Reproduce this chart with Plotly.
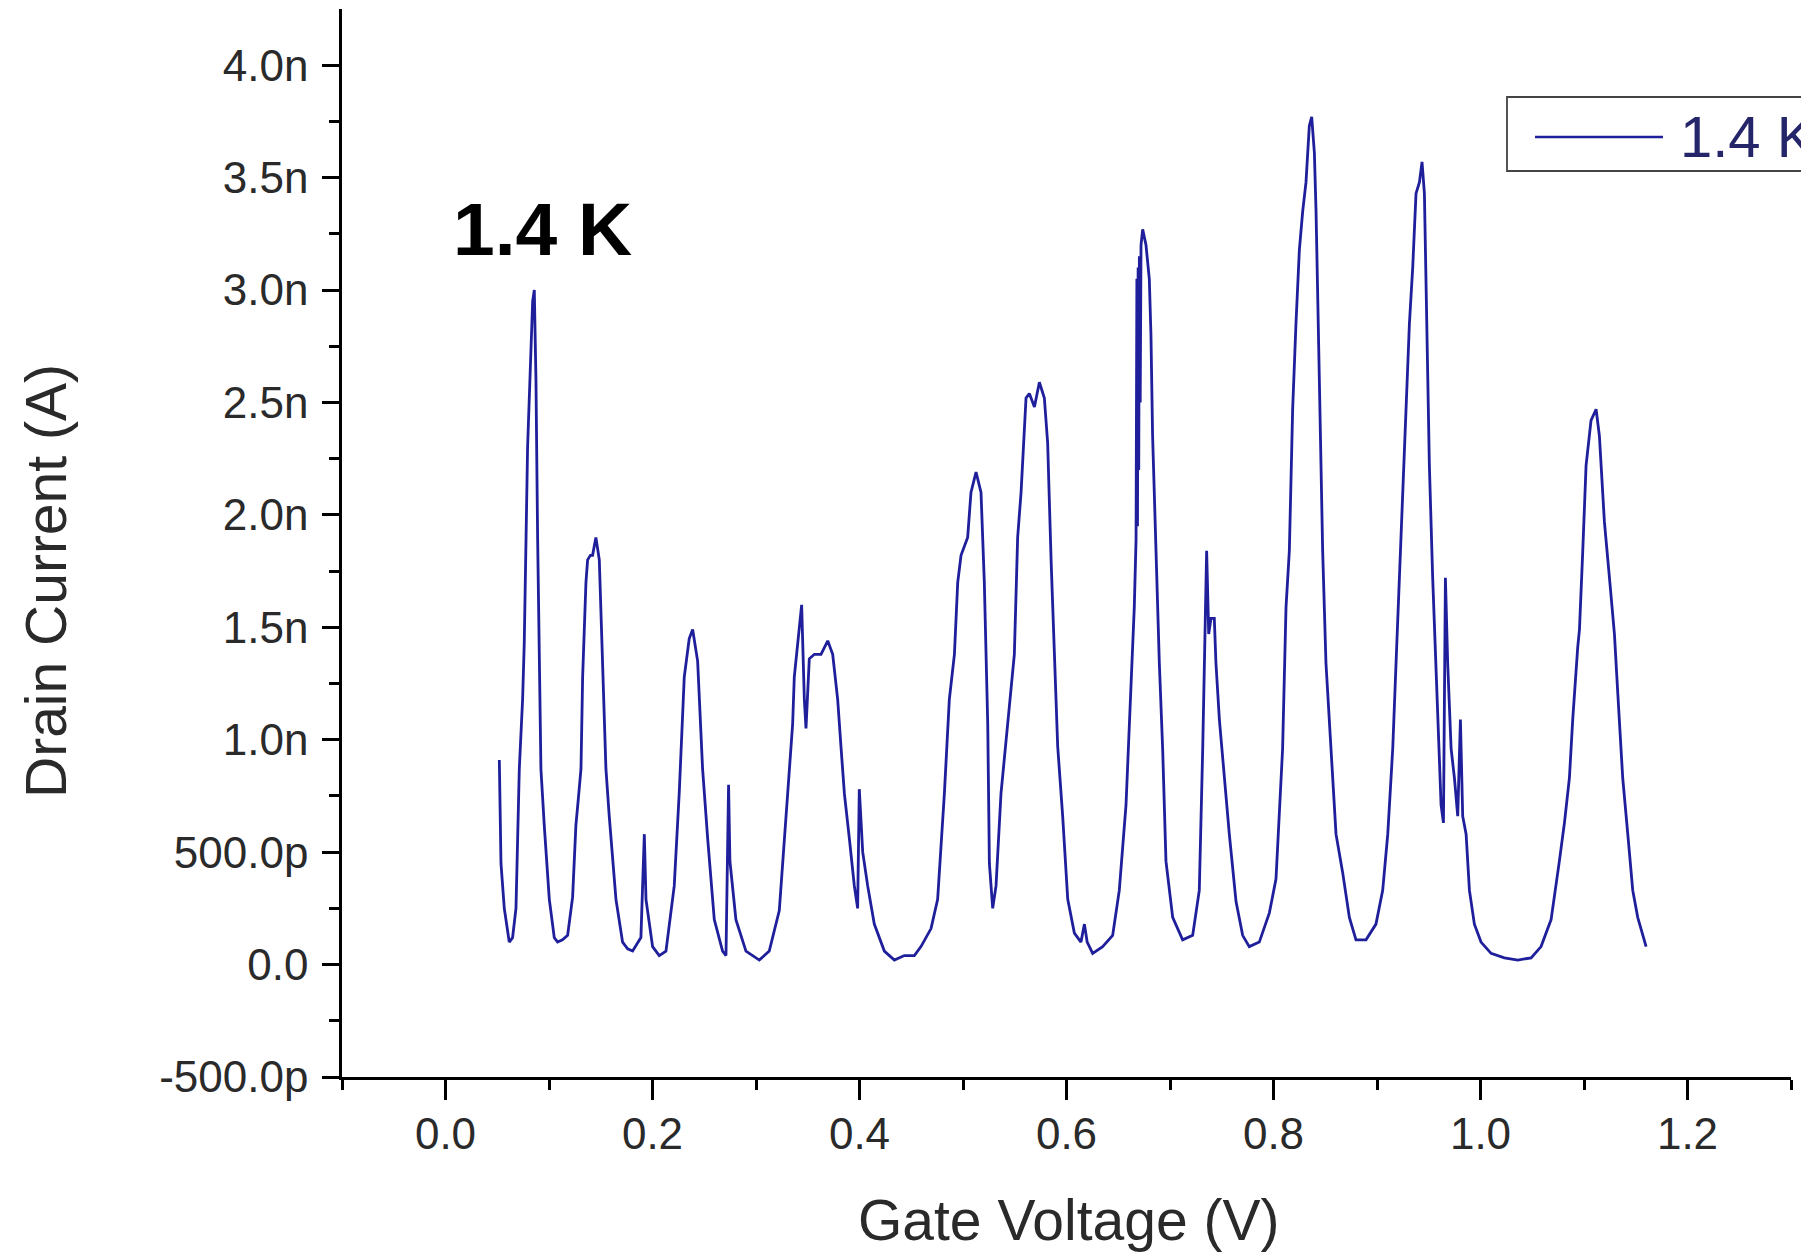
import plotly.graph_objects as go

# Gate voltage (V) and drain current (nA) at 1.4 K
gate_voltage = [
    0.0520, 0.0536, 0.0568, 0.0616, 0.0648, 0.0681, 0.0697, 0.0713, 0.0745, 0.0761,
    0.0793, 0.0825, 0.0842, 0.0858, 0.0874, 0.0890, 0.0906, 0.0922, 0.0954, 0.1003,
    0.1051, 0.1083, 0.1130, 0.1180, 0.1228, 0.1260, 0.1280, 0.1309, 0.1325, 0.1357,
    0.1373, 0.1400, 0.1421, 0.1453, 0.1486, 0.1518, 0.1550, 0.1582, 0.1647, 0.1711,
    0.1760, 0.1808, 0.1888, 0.1921, 0.1937, 0.2001, 0.2065, 0.2130, 0.2210, 0.2259,
    0.2307, 0.2355, 0.2388, 0.2436, 0.2484, 0.2533, 0.2597, 0.2677, 0.2710, 0.2735,
    0.2748, 0.2806, 0.2903, 0.3032, 0.3128, 0.3225, 0.3290, 0.3354, 0.3370, 0.3403,
    0.3441, 0.3467, 0.3483, 0.3515, 0.3564, 0.3628, 0.3693, 0.3741, 0.3789, 0.3821,
    0.3854, 0.3902, 0.3950, 0.3982, 0.3998, 0.4031, 0.4079, 0.4143, 0.4240, 0.4337,
    0.4433, 0.4530, 0.4594, 0.4691, 0.4755, 0.4820, 0.4868, 0.4917, 0.4949, 0.4981,
    0.5045, 0.5077, 0.5126, 0.5174, 0.5206, 0.5239, 0.5255, 0.5287, 0.5319, 0.5367,
    0.5432, 0.5496, 0.5528, 0.5561, 0.5609, 0.5641, 0.5690, 0.5738, 0.5786, 0.5818,
    0.5851, 0.5883, 0.5915, 0.5963, 0.6012, 0.6076, 0.6140, 0.6173, 0.6200, 0.6253,
    0.6349, 0.6446, 0.6510, 0.6575, 0.6623, 0.6655, 0.6672, 0.6680, 0.6686, 0.6692,
    0.6698, 0.6704, 0.6712, 0.6720, 0.6736, 0.6768, 0.6800, 0.6816, 0.6832, 0.6865,
    0.6897, 0.6929, 0.6961, 0.7026, 0.7122, 0.7219, 0.7283, 0.7316, 0.7332, 0.7354,
    0.7374, 0.7396, 0.7428, 0.7444, 0.7477, 0.7525, 0.7573, 0.7638, 0.7702, 0.7766,
    0.7863, 0.7960, 0.8024, 0.8088, 0.8121, 0.8153, 0.8169, 0.8185, 0.8217, 0.8250,
    0.8282, 0.8314, 0.8346, 0.8369, 0.8395, 0.8411, 0.8443, 0.8475, 0.8507, 0.8556,
    0.8604, 0.8668, 0.8733, 0.8797, 0.8894, 0.8990, 0.9055, 0.9104, 0.9152, 0.9184,
    0.9216, 0.9249, 0.9281, 0.9313, 0.9345, 0.9377, 0.9410, 0.9435, 0.9458, 0.9474,
    0.9506, 0.9538, 0.9571, 0.9587, 0.9619, 0.9642, 0.9661, 0.9683, 0.9716, 0.9748,
    0.9780, 0.9806, 0.9828, 0.9861, 0.9893, 0.9941, 1.0005, 1.0102, 1.0231, 1.0360,
    1.0489, 1.0585, 1.0682, 1.0762, 1.0811, 1.0859, 1.0891, 1.0939, 1.0956, 1.0988,
    1.1020, 1.1068, 1.1117, 1.1149, 1.1197, 1.1246, 1.1294, 1.1326, 1.1374, 1.1423,
    1.1471, 1.1519, 1.1568, 1.1600,
]
drain_current_nA = [
    0.91, 0.45, 0.25, 0.10, 0.12, 0.25, 0.56, 0.87, 1.18, 1.43,
    2.30, 2.73, 2.95, 3.00, 2.60, 1.90, 1.40, 0.87, 0.62, 0.29,
    0.12, 0.10, 0.11, 0.13, 0.30, 0.62, 0.72, 0.87, 1.28, 1.70,
    1.80, 1.82, 1.82, 1.90, 1.80, 1.28, 0.87, 0.66, 0.29, 0.10,
    0.07, 0.06, 0.12, 0.58, 0.29, 0.08, 0.04, 0.06, 0.35, 0.77,
    1.28, 1.45, 1.49, 1.35, 0.87, 0.56, 0.20, 0.06, 0.04, 0.80,
    0.46, 0.20, 0.06, 0.02, 0.06, 0.24, 0.66, 1.07, 1.28, 1.43,
    1.60, 1.18, 1.05, 1.36, 1.38, 1.38, 1.44, 1.38, 1.18, 0.97,
    0.76, 0.56, 0.35, 0.25, 0.78, 0.50, 0.35, 0.18, 0.06, 0.02,
    0.04, 0.04, 0.08, 0.16, 0.29, 0.76, 1.18, 1.38, 1.70, 1.82,
    1.90, 2.10, 2.19, 2.10, 1.70, 1.07, 0.45, 0.25, 0.35, 0.76,
    1.07, 1.38, 1.90, 2.10, 2.52, 2.54, 2.48, 2.59, 2.52, 2.32,
    1.80, 1.38, 0.97, 0.66, 0.29, 0.14, 0.10, 0.18, 0.10, 0.05,
    0.08, 0.13, 0.33, 0.71, 1.21, 1.59, 1.89, 3.05, 1.95, 3.10,
    2.20, 3.15, 2.50, 3.20, 3.27, 3.20, 3.05, 2.80, 2.35, 1.84,
    1.34, 0.96, 0.46, 0.21, 0.11, 0.13, 0.33, 0.96, 1.34, 1.84,
    1.47, 1.54, 1.54, 1.34, 1.09, 0.83, 0.58, 0.28, 0.13, 0.08,
    0.10, 0.23, 0.38, 0.96, 1.59, 1.84, 2.22, 2.47, 2.85, 3.18,
    3.35, 3.48, 3.73, 3.77, 3.61, 3.35, 2.60, 1.84, 1.34, 0.96,
    0.58, 0.41, 0.21, 0.11, 0.11, 0.18, 0.33, 0.58, 0.96, 1.34,
    1.72, 2.10, 2.47, 2.85, 3.10, 3.43, 3.48, 3.57, 3.43, 2.98,
    2.22, 1.72, 1.34, 1.14, 0.71, 0.63, 1.72, 1.34, 0.96, 0.83,
    0.66, 1.09, 0.66, 0.58, 0.33, 0.18, 0.10, 0.05, 0.03, 0.02,
    0.03, 0.08, 0.20, 0.46, 0.63, 0.83, 1.09, 1.41, 1.49, 1.84,
    2.22, 2.42, 2.47, 2.35, 1.97, 1.72, 1.47, 1.21, 0.83, 0.58,
    0.33, 0.21, 0.13, 0.08,
]

x_tick_vals = [0.0, 0.2, 0.4, 0.6, 0.8, 1.0, 1.2]
x_tick_text = ["0.0", "0.2", "0.4", "0.6", "0.8", "1.0", "1.2"]
x_minor_vals = [-0.1, 0.1, 0.3, 0.5, 0.7, 0.9, 1.1, 1.3]
y_tick_vals_nA = [-0.5, 0.0, 0.5, 1.0, 1.5, 2.0, 2.5, 3.0, 3.5, 4.0]
y_tick_text = ["-500.0p", "0.0", "500.0p", "1.0n", "1.5n", "2.0n", "2.5n", "3.0n", "3.5n", "4.0n"]
y_minor_vals_nA = [-0.25, 0.25, 0.75, 1.25, 1.75, 2.25, 2.75, 3.25, 3.75]

series_name = "1.4 K"
line_color = "#1f1f9c"
font_family = "Liberation Sans, Arial, sans-serif"

drain_current_A = [v * 1e-9 for v in drain_current_nA]

fig = go.Figure()
fig.add_trace(go.Scatter(
    x=gate_voltage, y=drain_current_A, mode="lines", name=series_name,
    line=dict(color=line_color, width=2.8), showlegend=False,
))

axis_common = dict(
    showline=True, linecolor="black", linewidth=2.5, mirror=False,
    showgrid=False, zeroline=False, ticks="outside", tickwidth=2.5,
    tickcolor="black", tickfont=dict(family=font_family, size=44, color="#2a2a2a"),
)
fig.update_xaxes(
    range=[-0.1, 1.3], tickvals=x_tick_vals, ticktext=x_tick_text, ticklen=20,
    ticklabelstandoff=-4,
    minor=dict(tickvals=x_minor_vals, ticks="outside", ticklen=10, tickwidth=2.5, tickcolor="black"),
    **axis_common,
)
fig.update_yaxes(
    range=[-0.5e-9, 4.25e-9], tickvals=[v * 1e-9 for v in y_tick_vals_nA], ticktext=y_tick_text,
    ticklen=17, ticklabelstandoff=5,
    minor=dict(tickvals=[v * 1e-9 for v in y_minor_vals_nA], ticks="outside", ticklen=10,
               tickwidth=2.5, tickcolor="black"),
    **axis_common,
)

L, R, T, B = 342, 10, 9, 175
W, H = 1801, 1252
pw, ph = W - L - R, H - T - B

def px_x(p):
    return (p - L) / pw

def px_y(p):
    return (H - B - p) / ph

annotations = [
    dict(text="<b>1.4 K</b>", x=0.094, y=3.27e-9, xref="x", yref="y", showarrow=False,
         xanchor="center", yanchor="middle", font=dict(family=font_family, size=75, color="black")),
    dict(text="Gate Voltage (V)", x=px_x(1068), y=px_y(1220), xref="paper", yref="paper",
         showarrow=False, xanchor="center", yanchor="middle",
         font=dict(family=font_family, size=57, color="#2a2a2a")),
    dict(text="Drain Current (A)", x=px_x(46), y=px_y(581), xref="paper", yref="paper",
         showarrow=False, xanchor="center", yanchor="middle", textangle=-90,
         font=dict(family=font_family, size=57, color="#2a2a2a")),
    dict(text=series_name, x=px_x(1678), y=px_y(137), xref="paper", yref="paper",
         showarrow=False, xanchor="left", yanchor="middle",
         font=dict(family=font_family, size=58, color="#25256a")),
]
shapes = [
    dict(type="rect", xref="paper", yref="paper", x0=px_x(1507), x1=px_x(1830),
         y0=px_y(171), y1=px_y(97), line=dict(color="#444444", width=1.8), fillcolor="rgba(0,0,0,0)"),
    dict(type="line", xref="paper", yref="paper", x0=px_x(1535), x1=px_x(1663),
         y0=px_y(137), y1=px_y(137), line=dict(color=line_color, width=2.5)),
]

fig.update_layout(
    width=W, height=H, margin=dict(l=L, r=R, t=T, b=B, pad=0),
    paper_bgcolor="white", plot_bgcolor="white",
    font=dict(family=font_family), annotations=annotations, shapes=shapes,
)

fig.write_html(
    "out.html", config={"displayModeBar": False},
    post_script="document.body.style.margin='0px';document.body.style.padding='0px';"
                "document.body.style.overflow='hidden';",
)
